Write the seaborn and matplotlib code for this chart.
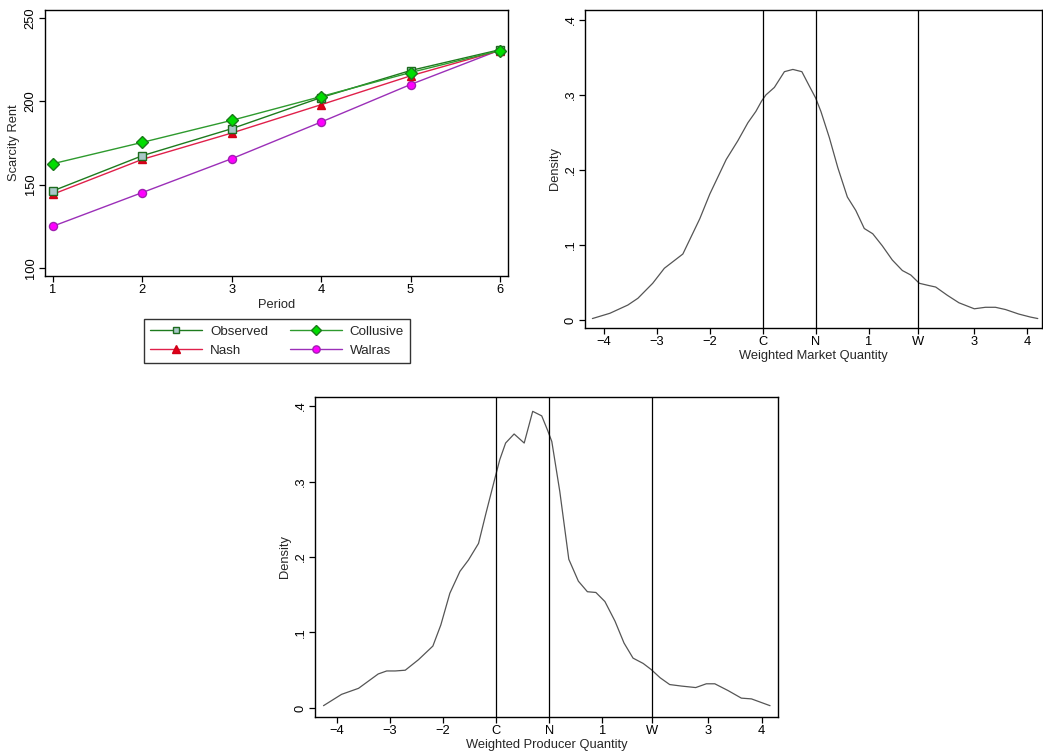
import matplotlib
matplotlib.use("Agg")
import matplotlib.pyplot as plt
import seaborn as sns
import numpy as np
import pandas as pd
from matplotlib.lines import Line2D

# ---------------- data ----------------
periods = [1, 2, 3, 4, 5, 6]
observed = [146.3, 167.4, 183.6, 202.3, 218.5, 231.0]
collusive = [162.6, 175.4, 188.6, 202.9, 217.3, 230.5]
nash = [144.3, 165.2, 181.0, 198.0, 215.3, 230.5]
walras = [125.1, 145.3, 165.6, 187.6, 210.1, 230.8]
series_names = ["Observed", "Collusive", "Nash", "Walras"]

market_x = [-4.22, -3.89, -3.55, -3.36, -3.08, -2.86, -2.51, -2.19, -2.00, -1.69,
            -1.47, -1.28, -1.13, -1.02, -0.94, -0.78, -0.59, -0.43, -0.26, -0.12,
            0.00, 0.10, 0.26, 0.42, 0.60, 0.76, 0.92, 1.08, 1.26, 1.45,
            1.64, 1.80, 1.96, 2.14, 2.27, 2.49, 2.71, 3.00, 3.21, 3.40,
            3.59, 3.84, 4.06, 4.20]
market_y = [0.002, 0.009, 0.020, 0.029, 0.049, 0.069, 0.088, 0.135, 0.168, 0.214,
            0.239, 0.263, 0.278, 0.292, 0.300, 0.310, 0.331, 0.334, 0.331, 0.312,
            0.296, 0.278, 0.243, 0.203, 0.164, 0.146, 0.122, 0.115, 0.099, 0.080,
            0.066, 0.060, 0.049, 0.046, 0.044, 0.033, 0.023, 0.015, 0.017, 0.017,
            0.014, 0.008, 0.004, 0.002]

producer_x = [-4.25, -3.91, -3.59, -3.22, -3.06, -2.90, -2.71, -2.46, -2.19, -2.04,
              -1.87, -1.68, -1.52, -1.33, -1.19, -1.03, -0.93, -0.82, -0.66, -0.47,
              -0.31, -0.14, -0.03, 0.05, 0.20, 0.37, 0.55, 0.72, 0.88, 1.05,
              1.24, 1.41, 1.58, 1.77, 1.92, 2.09, 2.27, 2.49, 2.76, 2.96,
              3.12, 3.37, 3.62, 3.81, 4.16]
producer_y = [0.003, 0.018, 0.026, 0.045, 0.049, 0.049, 0.050, 0.064, 0.082, 0.110,
              0.152, 0.181, 0.196, 0.218, 0.258, 0.302, 0.329, 0.351, 0.363, 0.351,
              0.393, 0.387, 0.368, 0.353, 0.287, 0.197, 0.168, 0.154, 0.153, 0.141,
              0.115, 0.086, 0.066, 0.059, 0.051, 0.040, 0.031, 0.029, 0.027, 0.032,
              0.032, 0.023, 0.013, 0.012, 0.003]

ref_positions = [-1.0, 0.0, 1.93]
dens_xticks = [-4, -3, -2, -1.0, 0.0, 1, 1.93, 3, 4]
dens_xticklabels = ["\u22124", "\u22123", "\u22122", "C", "N", "1", "W", "3", "4"]
dens_yticks = [0, 0.1, 0.2, 0.3, 0.4]
dens_yticklabels = ["0", ".1", ".2", ".3", ".4"]
rent_yticks = [100, 150, 200, 250]

# ---------------- style ----------------
sns.set_theme(style="ticks")
plt.rcParams["font.family"] = ["Liberation Sans", "DejaVu Sans"]
plt.rcParams["axes.edgecolor"] = "black"
plt.rcParams["axes.linewidth"] = 1.0
plt.rcParams["xtick.color"] = "black"
plt.rcParams["ytick.color"] = "black"
plt.rcParams["xtick.major.size"] = 4
plt.rcParams["ytick.major.size"] = 4
plt.rcParams["xtick.major.width"] = 0.9
plt.rcParams["ytick.major.width"] = 0.9
FS = 9.3

W, H = 1043, 753
fig = plt.figure(figsize=(W / 100, H / 100), dpi=100)
fig.patch.set_facecolor("white")


def px_axes(l, t, r, b):
    return fig.add_axes([l / W, 1 - b / H, (r - l) / W, (b - t) / H])


def style_axes(ax):
    for s in ax.spines.values():
        s.set_visible(True)
        s.set_color("black")
        s.set_linewidth(1.0)
    ax.tick_params(labelsize=FS, pad=2)
    for t in ax.get_yticklabels():
        t.set_rotation(90)
        t.set_va("center")


# ---------------- panel 1: scarcity rent ----------------
ax1 = px_axes(45, 10, 508, 276)
styles = {
    "Observed": dict(color="#1e7b1e", marker="s", mfc="#a9c8c8", mec="#1e6b1e", ms=5.2),
    "Collusive": dict(color="#2e9a2e", marker="D", mfc="#00dd00", mec="#1a7a1a", ms=5.8),
    "Nash": dict(color="#e0204a", marker="^", mfc="#e00018", mec="#d00018", ms=6.0),
    "Walras": dict(color="#9b2fb8", marker="o", mfc="#ff00ff", mec="#a020b0", ms=5.8),
}
values = {"Observed": observed, "Collusive": collusive, "Nash": nash, "Walras": walras}
handles = {}
for name in ["Walras", "Nash", "Observed", "Collusive"]:
    st = styles[name]
    sns.lineplot(x=periods, y=values[name], ax=ax1, color=st["color"], lw=1.0,
                 marker=st["marker"], markerfacecolor=st["mfc"],
                 markeredgecolor=st["mec"], markersize=st["ms"],
                 markeredgewidth=1.0, legend=False)
    handles[name] = Line2D([0], [0], color=st["color"], lw=1.0, marker=st["marker"],
                           markerfacecolor=st["mfc"], markeredgecolor=st["mec"],
                           markersize=st["ms"] * 0.9, markeredgewidth=1.0)
ax1.set_xlim(0.91, 6.09)
ax1.set_ylim(95.2, 254.8)
ax1.set_xticks(periods)
ax1.set_yticks(rent_yticks)
ax1.set_xlabel("Period", fontsize=FS, labelpad=2)
ax1.set_ylabel("Scarcity Rent", fontsize=FS, labelpad=3)
style_axes(ax1)

order = ["Observed", "Nash", "Collusive", "Walras"]
leg = fig.legend([handles[n] for n in order], order, ncol=2,
                 loc="center", bbox_to_anchor=(277 / W, 1 - 341 / H),
                 fontsize=FS + 0.3, frameon=True, fancybox=False, edgecolor="black",
                 handlelength=3.9, columnspacing=1.6, handletextpad=0.6,
                 borderpad=0.45, labelspacing=0.5)
leg.get_frame().set_linewidth(1.0)

# ---------------- panel 2: market quantity ----------------
ax2 = px_axes(585, 10, 1042, 328)
sns.lineplot(x=market_x, y=market_y, ax=ax2, color="#555555", lw=0.9)
for xv in ref_positions:
    ax2.axvline(xv, color="black", lw=0.9)
ax2.set_xlim(-4.36, 4.28)
ax2.set_ylim(-0.0106, 0.4132)
ax2.set_xticks(dens_xticks)
ax2.set_xticklabels(dens_xticklabels)
ax2.set_yticks(dens_yticks)
ax2.set_yticklabels(dens_yticklabels)
ax2.set_xlabel("Weighted Market Quantity", fontsize=FS, labelpad=1)
ax2.set_ylabel("Density", fontsize=FS, labelpad=3)
style_axes(ax2)

# ---------------- panel 3: producer quantity ----------------
ax3 = px_axes(315, 397, 778, 717)
sns.lineplot(x=producer_x, y=producer_y, ax=ax3, color="#555555", lw=0.9)
for xv in ref_positions:
    ax3.axvline(xv, color="black", lw=0.9)
ax3.set_xlim(-4.41, 4.31)
ax3.set_ylim(-0.012, 0.412)
ax3.set_xticks(dens_xticks)
ax3.set_xticklabels(dens_xticklabels)
ax3.set_yticks(dens_yticks)
ax3.set_yticklabels(dens_yticklabels)
ax3.set_xlabel("Weighted Producer Quantity", fontsize=FS, labelpad=1)
ax3.set_ylabel("Density", fontsize=FS, labelpad=3)
style_axes(ax3)

fig.savefig("out.png", dpi=100, facecolor="white")
